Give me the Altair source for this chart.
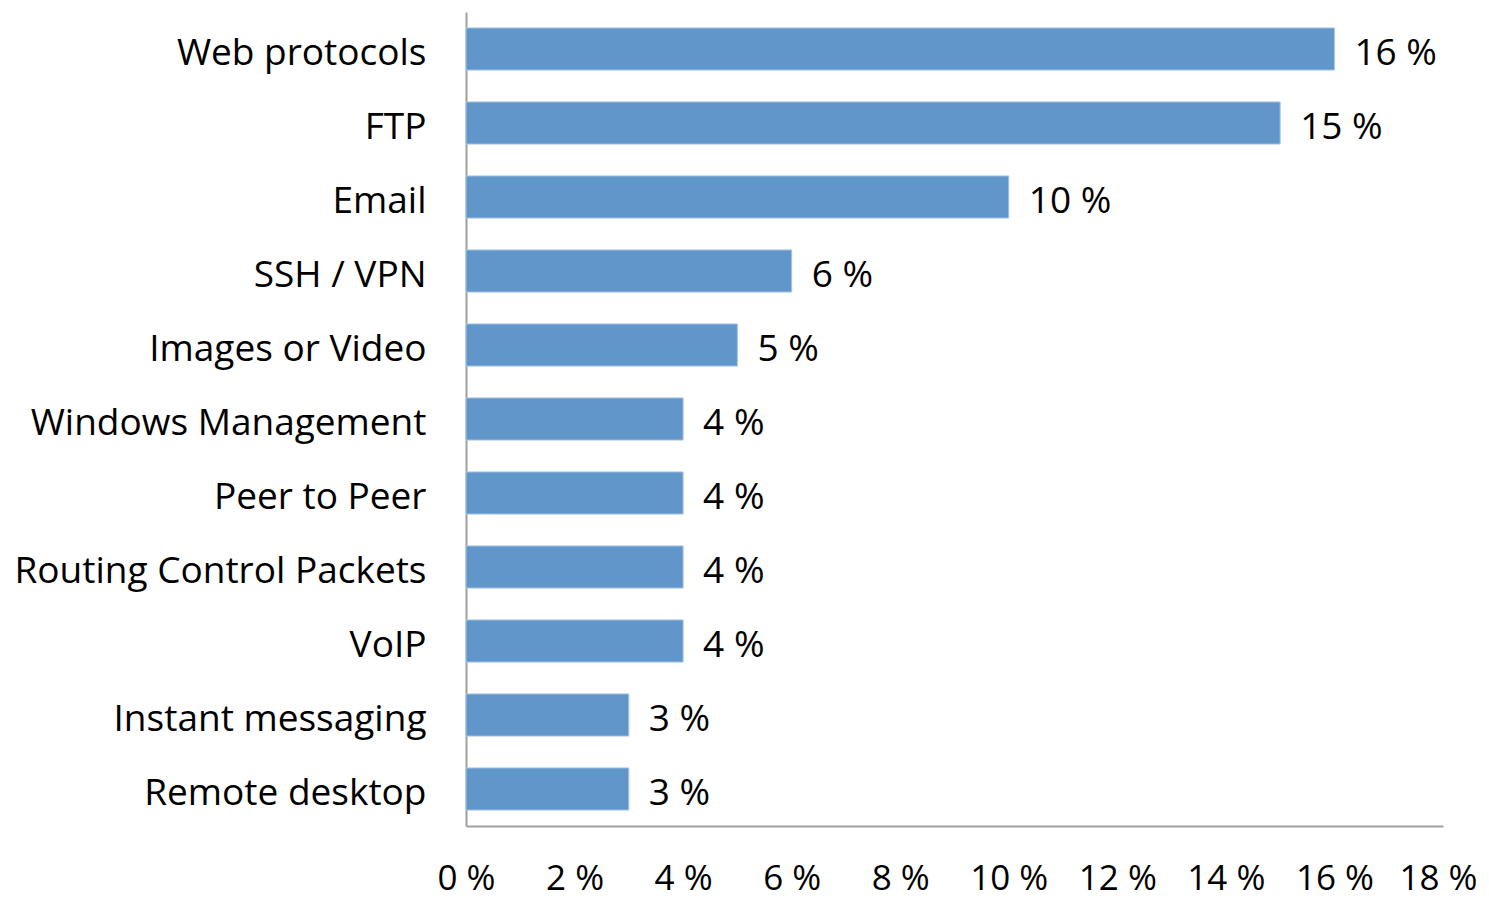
import altair as alt
import pandas as pd

categories = ["Web protocols", "FTP", "Email", "SSH / VPN", "Images or Video",
              "Windows Management", "Peer to Peer", "Routing Control Packets",
              "VoIP", "Instant messaging", "Remote desktop"]
values = [16, 15, 10, 6, 5, 4, 4, 4, 4, 3, 3]
tick_values = [0, 2, 4, 6, 8, 10, 12, 14, 16, 18]

df = pd.DataFrame({"category": categories, "value": values})
df["label"] = df["value"].astype(str) + " %"

FONT = "Open Sans"
FS = 37

y_enc = alt.Y("category:N", sort=categories,
              scale=alt.Scale(paddingInner=0.43, paddingOuter=0.215),
              axis=alt.Axis(title=None, ticks=False, domainColor="#A0A0A0", domainWidth=2,
                            labelFont=FONT, labelFontSize=FS, labelColor="#000000",
                            labelPadding=40, labelLimit=0, labelOffset=5))
x_enc = alt.X("value:Q", scale=alt.Scale(domain=[0, 18], nice=False),
              axis=alt.Axis(title=None, values=tick_values, ticks=False, grid=False,
                            domainColor="#A0A0A0", domainWidth=2,
                            labelFont=FONT, labelFontSize=35, labelColor="#000000",
                            labelPadding=35, labelExpr="datum.value + ' %'",
                            labelFlush=False,
                            labelOffset={"condition": {"test": "datum.value === 18", "value": -5},
                                         "value": 0}))

bars = alt.Chart(df).mark_bar(color="#6096C9", stroke="#A9C6E6", strokeWidth=1).encode(
    y=y_enc, x=x_enc)

text = alt.Chart(df).mark_text(align="left", baseline="middle", dx=20, dy=5, font=FONT,
                               fontSize=FS, color="#000000").encode(
    y=alt.Y("category:N", sort=categories), x="value:Q", text="label:N")

chart = (bars + text).properties(
    width=977, height=814,
    padding={"left": 458, "top": 4, "right": 38, "bottom": 72},
    autosize=alt.AutoSizeParams(type="none"),
    background="white"
).configure_view(stroke=None)

chart.save("out.html", embed_options={"renderer": "svg", "actions": False})
